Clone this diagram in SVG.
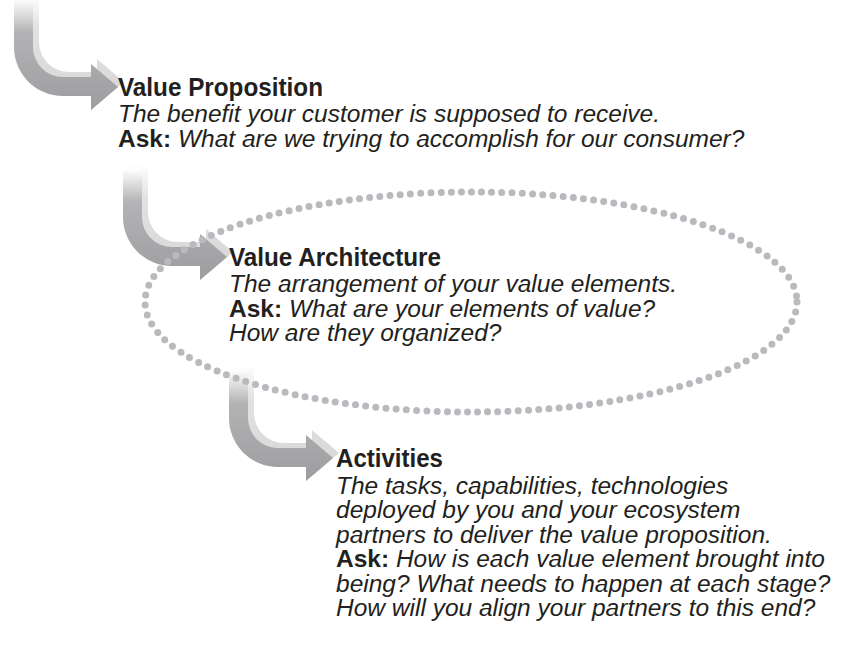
<svg xmlns="http://www.w3.org/2000/svg" xmlns:xlink="http://www.w3.org/1999/xlink" width="849" height="660" viewBox="0 0 849 660">
<style>
.t{font-family:"Liberation Sans",Arial,sans-serif;font-weight:bold;font-size:25.5px;fill:#231f20}
.b{font-family:"Liberation Sans",Arial,sans-serif;font-style:italic;font-size:24.5px;fill:#231f20}
.k{font-style:normal;font-weight:bold}
.dots{fill:none;stroke:#b9babe;stroke-width:7;stroke-linecap:round;stroke-dasharray:0 10.2}
</style>
<defs>
<linearGradient id="gMain" x1="0" y1="0" x2="0" y2="1">
<stop offset="0" stop-color="#ffffff"/>
<stop offset="0.3" stop-color="#b3b3b5"/>
<stop offset="1" stop-color="#9c9d9f"/>
</linearGradient>
<linearGradient id="gLight" x1="0" y1="0" x2="0" y2="1">
<stop offset="0" stop-color="#ffffff"/>
<stop offset="0.3" stop-color="#e2e2e3"/>
<stop offset="1" stop-color="#d6d6d8"/>
</linearGradient>
<path id="arrowShape" d="M0,0 L-27,-23 L-27,-10 L-55,-10 A30,30 0 0 1 -85,-40 L-85,-88 L-104,-88 L-104,-40 A49,49 0 0 0 -55,9 L-27,9 L-27,23 Z"/>
</defs>
<rect width="849" height="660" fill="#ffffff"/>
<g id="connectors">
<g id="arrow1" transform="translate(118,87)">
<use xlink:href="#arrowShape" href="#arrowShape" fill="url(#gLight)" transform="translate(6,-5)"/>
<use xlink:href="#arrowShape" href="#arrowShape" fill="url(#gMain)"/>
</g>
<g id="arrow2" transform="translate(227,257)">
<use xlink:href="#arrowShape" href="#arrowShape" fill="url(#gLight)" transform="translate(6,-5)"/>
<use xlink:href="#arrowShape" href="#arrowShape" fill="url(#gMain)"/>
</g>
<g id="arrow3" transform="translate(333,458)">
<use xlink:href="#arrowShape" href="#arrowShape" fill="url(#gLight)" transform="translate(6,-5)"/>
<use xlink:href="#arrowShape" href="#arrowShape" fill="url(#gMain)"/>
</g>
</g>
<g id="architecture-boundary">
<ellipse class="dots" cx="471" cy="302" rx="326" ry="110"/>
</g>
<g id="value-proposition">
<text class="t" x="118" y="96" textLength="205" lengthAdjust="spacingAndGlyphs">Value Proposition</text>
<text class="b" x="118" y="122">The benefit your customer is supposed to receive.</text>
<text class="b" x="118" y="147"><tspan class="k">Ask:</tspan> What are we trying to accomplish for our consumer?</text>
</g>
<g id="value-architecture">
<text class="t" x="229" y="266" textLength="212" lengthAdjust="spacingAndGlyphs">Value Architecture</text>
<text class="b" x="229" y="292">The arrangement of your value elements.</text>
<text class="b" x="229" y="317"><tspan class="k">Ask:</tspan> What are your elements of value?</text>
<text class="b" x="229" y="341">How are they organized?</text>
</g>
<g id="activities">
<text class="t" x="336" y="467" textLength="107" lengthAdjust="spacingAndGlyphs">Activities</text>
<text class="b" x="336" y="494">The tasks, capabilities, technologies</text>
<text class="b" x="336" y="518">deployed by you and your ecosystem</text>
<text class="b" x="336" y="543">partners to deliver the value proposition.</text>
<text class="b" x="336" y="567"><tspan class="k">Ask:</tspan> How is each value element brought into</text>
<text class="b" x="336" y="592">being? What needs to happen at each stage?</text>
<text class="b" x="336" y="616">How will you align your partners to this end?</text>
</g>
</svg>
